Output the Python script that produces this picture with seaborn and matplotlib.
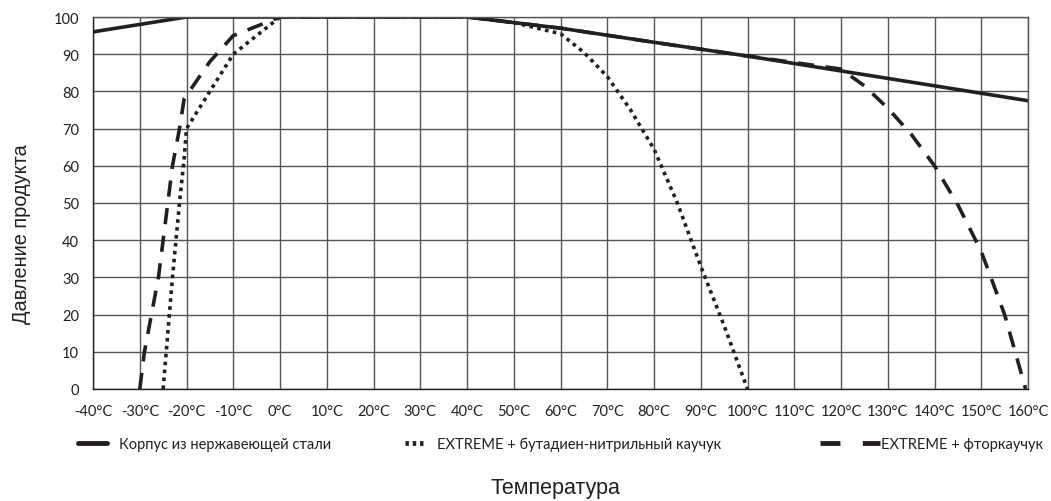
import matplotlib
matplotlib.use("Agg")
import matplotlib.pyplot as plt
import seaborn as sns
import numpy as np

# Data
steel_t = [-40, -20, 40, 60, 80, 100, 120, 140, 160]
steel_p = [96, 100, 100, 97, 93.2, 89.5, 85.5, 81.5, 77.5]

nbr_t = [-25, -24, -23, -21.5, -20.5, -20, -15, -10, -5, 0, 40, 50, 60, 65, 70, 75, 80, 85, 90, 95, 100]
nbr_p = [0, 15, 30, 50, 62, 70, 80, 90, 95, 100, 100, 98.5, 95.5, 90.5, 84, 75, 64.5, 50, 33, 17, 0]

fkm_t = [-30, -29, -27.5, -26, -24.5, -23, -21.5, -20.5, -15, -10, 0, 40, 60, 80, 100, 120, 125, 130, 135, 140, 145, 150, 155, 159.5]
fkm_p = [0, 10, 20, 30, 45, 60, 70, 78, 88, 95, 100, 100, 97, 93.2, 89.5, 86, 81.5, 75.5, 68.5, 60, 49.5, 37, 20, 0]

x_ticks = list(range(-40, 161, 10))
x_labels = [f"{t}°C" for t in x_ticks]
y_ticks = list(range(0, 101, 10))

labels = ["Корпус из нержавеющей стали",
          "EXTREME + бутадиен-нитрильный каучук",
          "EXTREME + фторкаучук"]

sns.set_theme(style="white")
plt.rcParams['font.family'] = ['Liberation Sans', 'DejaVu Sans']
tick_font = ['Lato', 'DejaVu Sans']

fig = plt.figure(figsize=(10.51, 5.02), dpi=100)
ax = fig.add_axes([93/1051, 1-390/502, (1028-93)/1051, (390-18)/502])

col = "#231f20"
lw = 2.6
sns.lineplot(x=steel_t, y=steel_p, ax=ax, color=col, lw=lw, sort=False, estimator=None)
sns.lineplot(x=nbr_t, y=nbr_p, ax=ax, color=col, lw=lw, sort=False, estimator=None)
sns.lineplot(x=fkm_t, y=fkm_p, ax=ax, color=col, lw=lw, sort=False, estimator=None)
lines = ax.get_lines()
lines[1].set_dashes([1.0, 1.2])
lines[1].set_dash_capstyle('butt')
lines[2].set_dashes([4.5, 3.2])

ax.set_xlim(-40, 160)
ax.set_ylim(0, 100)
ax.set_xticks(x_ticks)
ax.set_xticklabels(x_labels, fontsize=10.5, family=tick_font)
ax.set_yticks(y_ticks)
ax.set_yticklabels([str(v) for v in y_ticks], fontsize=10.5, family=tick_font)
ax.tick_params(axis='x', length=0, pad=11, colors='#231f20')
ax.tick_params(axis='y', length=0, pad=10, colors='#231f20')
ax.grid(True, color='#555555', linewidth=1.0)
ax.set_axisbelow(True)
for s in ax.spines.values():
    s.set_color('#555555')
    s.set_linewidth(1.0)
ax.spines['left'].set_color('#231f20')
ax.spines['bottom'].set_color('#231f20')
ax.set_xlabel("")
ax.set_ylabel("")

fig.text(555/1051, 1-489/502, "Температура", fontsize=15.5, color='#231f20',
         ha='center', va='center')
fig.text(22/1051, 1-234/502, "Давление продукта", fontsize=14.4, color='#231f20',
         ha='center', va='center', rotation=90)

# Legends
from matplotlib.lines import Line2D
h1 = Line2D([], [], color=col, lw=3.5)
h2 = Line2D([], [], color=col, lw=3.5, dashes=[0.7, 0.8], dash_capstyle='butt')
h3 = Line2D([], [], color=col, lw=3.5, dashes=[4.1, 4.6], dash_capstyle='butt')
positions = [(78/1051, 445/502), (405/1051, 445/502), (820/1051, 445/502)]
for h, lab, pos, hl, tp in zip([h1, h2, h3], labels, positions, [2.0, 1.4, 4.1], [0.8, 0.8, 0.1]):
    leg = fig.legend([h], [lab], loc='center left', bbox_to_anchor=(pos[0], 1-pos[1]),
                     frameon=False, handlelength=hl, handletextpad=tp, borderpad=0, borderaxespad=0,
                     prop={'family': tick_font, 'size': 10.5})
    for t in leg.get_texts():
        t.set_color('#231f20')

fig.savefig("out.png", dpi=100)
